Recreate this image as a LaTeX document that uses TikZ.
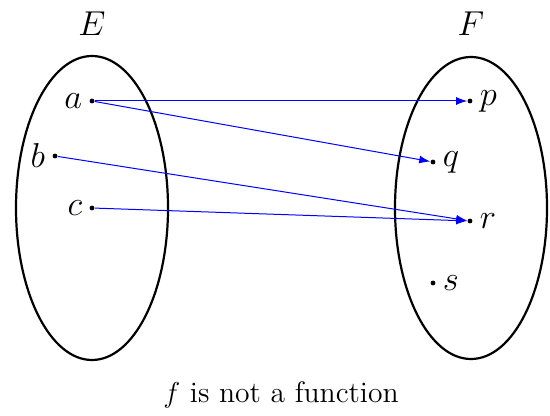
\documentclass[tikz,border=0pt]{standalone}
\usetikzlibrary{arrows.meta}
\begin{document}
\begin{tikzpicture}[x=0.5pt,y=-0.5pt,
  setline/.style={line width=1.1pt},
  pt/.style={circle,fill=black,inner sep=0pt,minimum size=2.4pt},
  maparrow/.style={blue,line width=0.5pt,-{Latex[length=5.5pt,width=4pt]}},
  lbl/.style={font=\fontsize{17}{20}\selectfont},
  font=\fontsize{14.8}{17}\selectfont]
\useasboundingbox (0,0) rectangle (550,416);
\draw[setline] (92,208) ellipse [x radius=76, y radius=152];
\draw[setline] (471,208) ellipse [x radius=76, y radius=151];
\node[lbl] (E) at (92,24) {$E$};
\node[lbl] (F) at (471,24) {$F$};
\node[pt,label={[lbl,label distance=0pt]left:$a$}] (a) at (92,101) {};
\node[pt,label={[lbl,label distance=0pt]left:$b$}] (b) at (55,156) {};
\node[pt,label={[lbl,label distance=0pt]left:$c$}] (c) at (92,208) {};
\node[pt,label={[lbl,label distance=0pt]right:$p$}] (p) at (470,101) {};
\node[pt,label={[lbl,label distance=0pt]right:$q$}] (q) at (433,162) {};
\node[pt,label={[lbl,label distance=0pt]right:$r$}] (r) at (470,221) {};
\node[pt,label={[lbl,label distance=0pt]right:$s$}] (s) at (433,283) {};
\draw[maparrow] (a) -- (p);
\draw[maparrow] (a) -- (q);
\draw[maparrow] (b) -- (r);
\draw[maparrow] (c) -- (r);
\node[anchor=base] (cap) at (281,402) {$f$ is not a function};
\end{tikzpicture}
\end{document}
